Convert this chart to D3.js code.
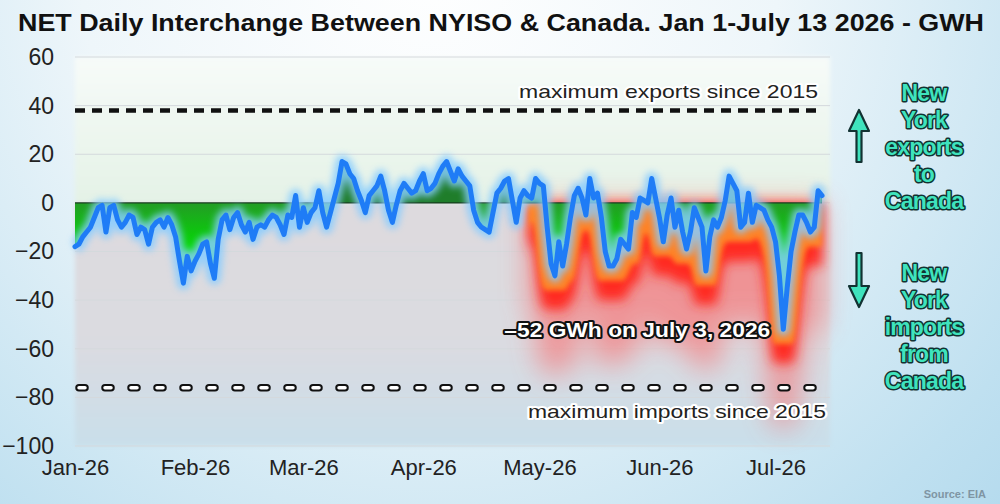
<!DOCTYPE html>
<html>
<head>
<meta charset="utf-8">
<script src="https://cdn.jsdelivr.net/npm/d3@7"></script>
<style>
  html, body { margin: 0; padding: 0; overflow: hidden; background: #fff; }
  svg { display: block; }
</style>
</head>
<body>
<svg id="chart" width="1000" height="504"></svg>
<script>
'use strict';

/* NET daily interchange NYISO <-> Canada, GWh, one value per day from Jan 1 */
const START_DAY = new Date(2026, 0, 1);
const END_DAY   = new Date(2026, 6, 13);

const netGwh = [
  -18, -17, -14, -12, -10,  -6,  -2,  -1, -12,  -2,   // Jan 1-10
   -1,  -7, -10,  -8,  -5,  -6, -13, -10, -11, -17,
  -10,  -8,  -7, -10,  -6,  -9, -14, -24, -33, -22,
  -28, -24, -21, -17, -16, -25, -31, -15,  -7,  -5,   // Feb
  -11,  -6,  -4,  -9, -12,  -8, -15, -10,  -9, -10,
   -7,  -5,  -6,  -9, -13,  -5,  -6,   3, -10,  -2,
   -8,  -4,  -2,   5,  -4, -10,  -4,   2,   8,  17,   // Mar
   16,  12,  10,   5,   1,  -4,   3,   5,   7,  11,
    5,  -3,  -8,  -1,   5,   8,   6,   4,   5,   9,
   12,   5,   6,   8,  12,  15,  17,  13,   9,  14,   // Apr
   11,   9,   7,  -3,  -8, -10, -11, -12,  -4,   4,
    6,   9,  10,   1,  -8,   2,   5,   3,   2,  10,
    8,   7, -10, -25, -30, -16, -26, -17,  -6,   3,   // May
    6,   2,  -5,  10,   2,   4,  -6, -20, -26, -26,
  -23, -15, -17, -19,  -4,  -6,   2,   1,   0,  10,
    2,  -6, -16,  -5,   2, -10,  -3, -12, -19, -12,   // Jun
   -2,  -6, -10, -28, -14,  -7, -10,  -6,   1,  11,
    8,   5, -10,  -8,   4,  -8,  -1,  -2,  -3,  -7,
  -10, -16, -30, -52, -35, -20, -12,  -5,  -5,  -8,   // Jul
  -12, -10,   5,   3
];

const yTicks       = [60, 40, 20, 0, -20, -40, -60, -80, -100];
const maxExports   = 38;    // dashed line, maximum exports since 2015
const maxImports   = -76;   // hollow dashed line, maximum imports since 2015
const importsFrom  = new Date(2026, 3, 28);   // red glow under the line from here
const peakDay      = new Date(2026, 6, 3);
const exportsWords = ['New', 'York', 'exports', 'to', 'Canada'];
const importsWords = ['New', 'York', 'imports', 'from', 'Canada'];

const W = 1000, H = 504;
const plot = { left: 75, right: 822, top: 57, bottom: 446 };

const series = netGwh.map((v, i) => ({ date: d3.timeDay.offset(START_DAY, i), v }));
// lowest value in a small window, used only to shape the soft red glow
series.forEach((d, i) => {
  d.low = d3.min(netGwh.slice(Math.max(0, i - 3), i + 4));
});

const x = d3.scaleTime().domain([START_DAY, END_DAY]).range([plot.left, plot.right]);
const y = d3.scaleLinear().domain([-100, 60]).range([plot.bottom, plot.top]);

const svg = d3.select('#chart');
const defs = svg.append('defs');

// ── gradients & filters ─────────────────────────────────────────
const bg = defs.append('radialGradient').attr('id', 'bg')
  .attr('gradientUnits', 'userSpaceOnUse')
  .attr('cx', 430).attr('cy', -40).attr('r', 1000);
bg.append('stop').attr('offset', 0).attr('stop-color', '#ffffff');
bg.append('stop').attr('offset', 0.35).attr('stop-color', '#eef6fa');
bg.append('stop').attr('offset', 0.7).attr('stop-color', '#bfe0f0');
bg.append('stop').attr('offset', 1).attr('stop-color', '#9fcfe8');

const upper = defs.append('linearGradient').attr('id', 'upperBg')
  .attr('gradientUnits', 'userSpaceOnUse')
  .attr('x1', 0).attr('x2', 0).attr('y1', y(60)).attr('y2', y(0));
upper.append('stop').attr('offset', 0).attr('stop-color', '#f7fbf9');
upper.append('stop').attr('offset', 1).attr('stop-color', '#e4f2e6');

const lower = defs.append('linearGradient').attr('id', 'lowerBg')
  .attr('gradientUnits', 'userSpaceOnUse')
  .attr('x1', 0).attr('x2', 0).attr('y1', y(0)).attr('y2', y(-100));
lower.append('stop').attr('offset', 0).attr('stop-color', '#dedade');
lower.append('stop').attr('offset', 0.6).attr('stop-color', '#dadbe1');
lower.append('stop').attr('offset', 1).attr('stop-color', '#c9dfea');

const greenLow = defs.append('linearGradient').attr('id', 'greenLow')
  .attr('gradientUnits', 'userSpaceOnUse')
  .attr('x1', 0).attr('x2', 0).attr('y1', y(0)).attr('y2', y(-20));
greenLow.append('stop').attr('offset', 0).attr('stop-color', '#239c25');
greenLow.append('stop').attr('offset', 1).attr('stop-color', '#00e000');

function blur(id, sd) {
  defs.append('filter').attr('id', id)
    .attr('x', '-20%').attr('y', '-60%').attr('width', '140%').attr('height', '220%')
    .append('feGaussianBlur').attr('stdDeviation', sd);
}
blur('blurHaze', 14);
blur('blurRed', 6);
blur('blurOrange', 2.5);
blur('blurGlow', 3.5);
blur('blurSoft', 2);

defs.append('clipPath').attr('id', 'clipUp').append('rect')
  .attr('x', 0).attr('y', 0).attr('width', W).attr('height', y(0));
defs.append('clipPath').attr('id', 'clipDown').append('rect')
  .attr('x', 0).attr('y', y(0)).attr('width', W).attr('height', H - y(0));

// ── background ──────────────────────────────────────────────────
svg.append('rect').attr('width', W).attr('height', H).attr('fill', 'url(#bg)');

const plotBg = svg.append('g').attr('filter', 'url(#blurSoft)');
plotBg.append('rect')
  .attr('x', plot.left).attr('y', y(60))
  .attr('width', plot.right + 8 - plot.left).attr('height', y(0) - y(60))
  .attr('fill', 'url(#upperBg)');
plotBg.append('rect')
  .attr('x', plot.left).attr('y', y(0))
  .attr('width', plot.right + 8 - plot.left).attr('height', y(-100) - y(0))
  .attr('fill', 'url(#lowerBg)');

// gridlines
svg.append('g')
  .selectAll('line').data(yTicks).join('line')
  .attr('x1', plot.left).attr('x2', plot.right + 8)
  .attr('y1', d => y(d)).attr('y2', d => y(d))
  .attr('stroke', '#d4d9dc').attr('stroke-width', 1);

// ── red import glow (May onward) ────────────────────────────────
const redData = series.filter(d => d.date >= importsFrom);
const glowArea = (off, top) => d3.area()
  .x(d => x(d.date))
  .y0(d => y(top === 0 ? 0 : Math.min(d.v, 0)))
  .y1(d => y(d.low - off))
  .curve(d3.curveBasis);

svg.append('path').datum(redData)
  .attr('d', glowArea(40, 0)).attr('fill', '#ff5a5a').attr('opacity', 0.55)
  .attr('filter', 'url(#blurHaze)');
svg.append('path').datum(redData)
  .attr('d', glowArea(14, 0)).attr('fill', '#ff2b20')
  .attr('filter', 'url(#blurRed)');
svg.append('path').datum(redData)
  .attr('d', glowArea(6)).attr('fill', '#ff8c26').attr('opacity', 0.9)
  .attr('filter', 'url(#blurOrange)');

// ── green fill between zero and the line ────────────────────────
const fillArea = d3.area()
  .x(d => x(d.date))
  .y0(y(0))
  .y1(d => y(d.v));

svg.append('path').datum(series)
  .attr('clip-path', 'url(#clipUp)')
  .attr('d', fillArea).attr('fill', '#1f7d2a');
svg.append('path').datum(series)
  .attr('clip-path', 'url(#clipDown)')
  .attr('d', fillArea).attr('fill', 'url(#greenLow)');

svg.append('line')
  .attr('x1', plot.left).attr('x2', plot.right)
  .attr('y1', y(0)).attr('y2', y(0))
  .attr('stroke', '#173d1c').attr('stroke-width', 1.3);

// ── reference lines ─────────────────────────────────────────────
svg.append('line')
  .attr('x1', plot.left).attr('x2', plot.right)
  .attr('y1', y(maxExports)).attr('y2', y(maxExports))
  .attr('stroke', '#111').attr('stroke-width', 4.5)
  .attr('stroke-dasharray', '10 7');

const impLine = svg.append('g');
[['#111', 7.5], ['#ffffff', 3.5]].forEach(([c, w]) => {
  impLine.append('line')
    .attr('x1', plot.left + 4).attr('x2', plot.right)
    .attr('y1', y(maxImports)).attr('y2', y(maxImports))
    .attr('stroke', c).attr('stroke-width', w)
    .attr('stroke-linecap', 'round')
    .attr('stroke-dasharray', '6 20');
});

// ── the line with its glow ──────────────────────────────────────
const line = d3.line().x(d => x(d.date)).y(d => y(d.v));

svg.append('path').datum(series)
  .attr('d', line).attr('fill', 'none')
  .attr('stroke', '#86ccff').attr('stroke-width', 13)
  .attr('stroke-linejoin', 'round').attr('opacity', 0.85)
  .attr('filter', 'url(#blurGlow)');
svg.append('path').datum(series)
  .attr('d', line).attr('fill', 'none')
  .attr('stroke', '#1f7cf6').attr('stroke-width', 5)
  .attr('stroke-linejoin', 'round').attr('stroke-linecap', 'round');

// ── axes ────────────────────────────────────────────────────────
const yAxis = svg.append('g')
  .attr('transform', `translate(${plot.left - 18},0)`)
  .call(d3.axisLeft(y).tickValues(yTicks).tickSize(0).tickPadding(3));
yAxis.select('.domain').remove();
yAxis.selectAll('text')
  .attr('font-family', 'Liberation Sans, Arial, sans-serif')
  .attr('font-size', 23).attr('fill', '#222');

const xAxis = svg.append('g')
  .attr('transform', `translate(0,${plot.bottom})`)
  .call(d3.axisBottom(x)
    .ticks(d3.timeMonth.every(1))
    .tickFormat(d3.timeFormat('%b-%y'))
    .tickSize(0).tickPadding(13));
xAxis.select('.domain').remove();
xAxis.selectAll('text')
  .attr('font-family', 'Liberation Sans, Arial, sans-serif')
  .attr('font-size', 22).attr('fill', '#222');

// ── texts ───────────────────────────────────────────────────────
svg.append('text')
  .attr('x', 18).attr('y', 31)
  .attr('textLength', 966).attr('lengthAdjust', 'spacingAndGlyphs')
  .attr('font-family', 'Liberation Sans, Arial, sans-serif')
  .attr('font-weight', 700).attr('font-size', 24).attr('fill', '#111')
  .text('NET Daily Interchange Between NYISO & Canada. Jan 1-July 13 2026 - GWH');

function haloText(txt, xr, yb, len) {
  svg.append('text')
    .attr('x', xr).attr('y', yb)
    .attr('text-anchor', 'end')
    .attr('textLength', len).attr('lengthAdjust', 'spacingAndGlyphs')
    .attr('font-family', 'Liberation Sans, Arial, sans-serif')
    .attr('font-size', 19).attr('fill', '#222')
    .attr('stroke', '#fff').attr('stroke-width', 4).attr('stroke-linejoin', 'round')
    .attr('paint-order', 'stroke')
    .text(txt);
}
haloText('maximum exports since 2015', 818, y(maxExports) - 12, 299);
haloText('maximum imports since 2015', 826, y(maxImports) + 30, 298);

const peak = series.find(d => +d.date === +peakDay);
svg.append('text')
  .attr('x', x(peak.date) - 13).attr('y', y(peak.v) + 8)
  .attr('text-anchor', 'end')
  .attr('textLength', 266).attr('lengthAdjust', 'spacingAndGlyphs')
  .attr('font-family', 'Liberation Sans, Arial, sans-serif')
  .attr('font-weight', 700).attr('font-size', 21).attr('fill', '#fff')
  .attr('stroke', '#111').attr('stroke-width', 4).attr('stroke-linejoin', 'round')
  .attr('paint-order', 'stroke')
  .text(`\u2013${Math.abs(peak.v)} GWh on July 3, 2026`);

// side legend: arrows + words
const TEAL = '#3fe3bd', DARK = '#123232';
function wordStack(words, y0) {
  svg.append('g').selectAll('text').data(words).join('text')
    .attr('x', 924).attr('y', (d, i) => y0 + i * 27)
    .attr('text-anchor', 'middle')
    .attr('font-family', 'Liberation Sans, Arial, sans-serif')
    .attr('font-weight', 700).attr('font-size', 23)
    .attr('letter-spacing', -0.8)
    .attr('fill', TEAL).attr('stroke', DARK).attr('stroke-width', 3)
    .attr('stroke-linejoin', 'round').attr('paint-order', 'stroke')
    .text(d => d);
}
wordStack(exportsWords, 101);
wordStack(importsWords, 281);

function arrow(xc, tip, base, end) {
  const p = d3.path();
  p.moveTo(xc, tip);
  p.lineTo(xc + 10, base);
  p.lineTo(xc + 2.5, base);
  p.lineTo(xc + 2.5, end);
  p.lineTo(xc - 2.5, end);
  p.lineTo(xc - 2.5, base);
  p.lineTo(xc - 10, base);
  p.closePath();
  svg.append('path').attr('d', p.toString())
    .attr('fill', TEAL).attr('stroke', DARK).attr('stroke-width', 2.2)
    .attr('stroke-linejoin', 'round');
}
arrow(859, 110, 131, 162);
arrow(859, 307, 286, 253);

svg.append('text')
  .attr('x', 986).attr('y', 498).attr('text-anchor', 'end')
  .attr('font-family', 'Liberation Sans, Arial, sans-serif')
  .attr('font-weight', 700).attr('font-size', 11).attr('fill', '#7f95a3')
  .text('Source: EIA');
</script>
</body>
</html>
